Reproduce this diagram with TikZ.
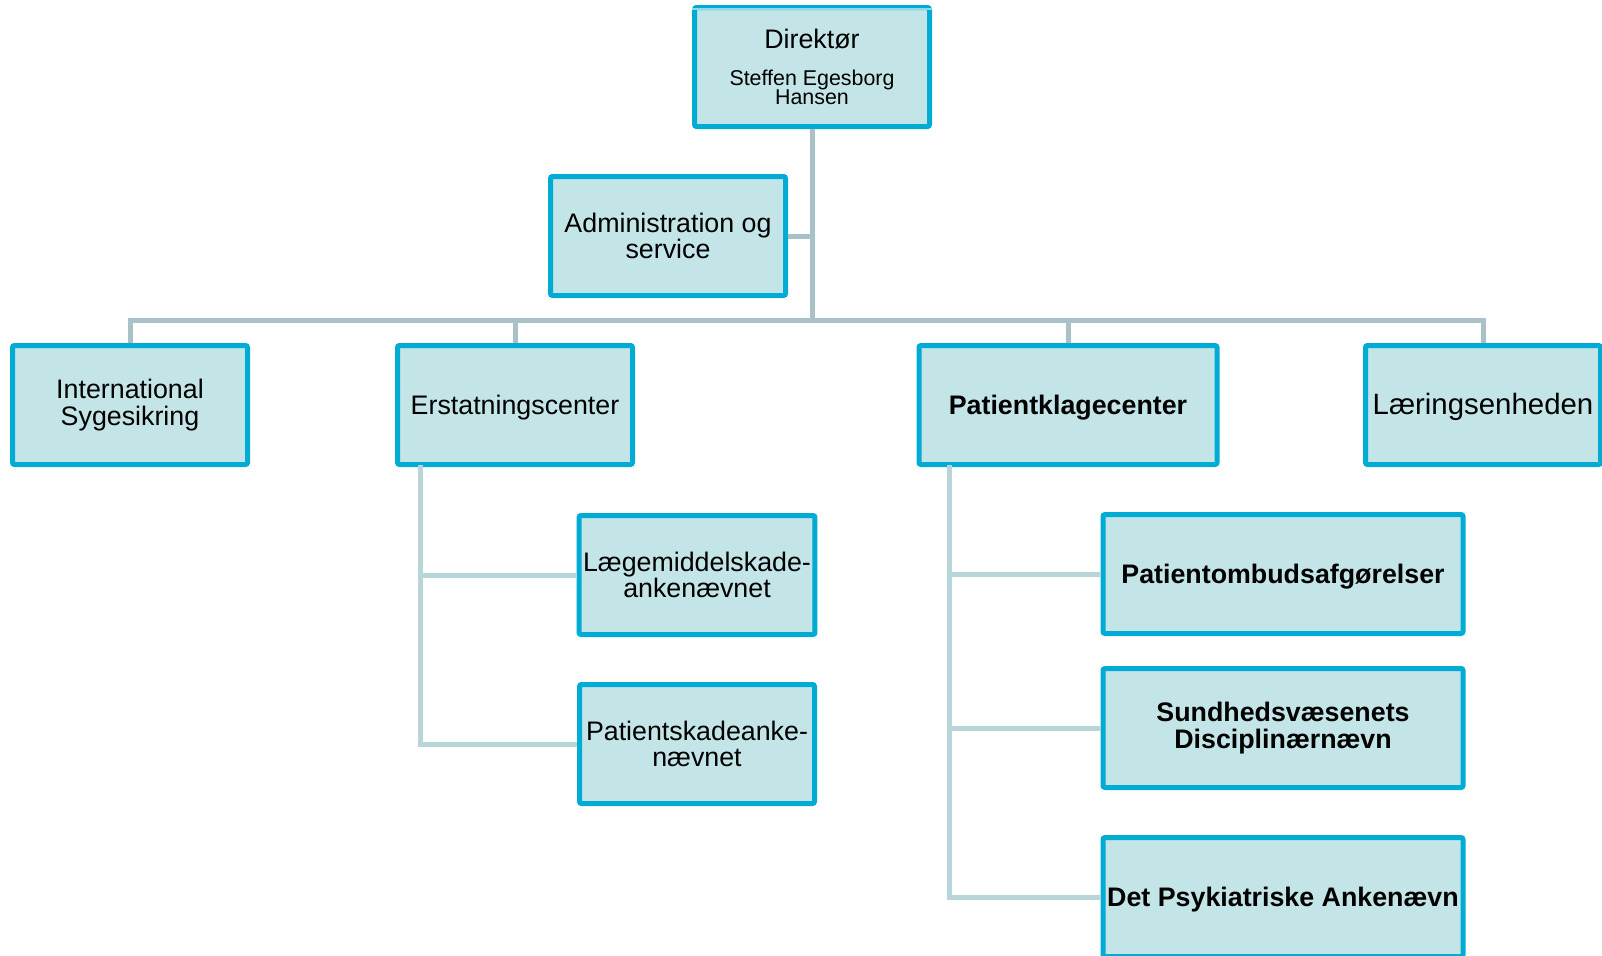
\documentclass[tikz,border=0pt]{standalone}
\usepackage{fontspec}
\setmainfont{Liberation Sans}
\definecolor{boxfill}{HTML}{C4E5E8}
\definecolor{boxline}{HTML}{00ABD4}
\definecolor{trunkline}{HTML}{A8C2C7}
\definecolor{branchline}{HTML}{B8D6DA}
\newcommand{\unitfont}{\fontsize{13.4}{13.3}\selectfont}
\newcommand{\bigunitfont}{\fontsize{14.7}{15}\selectfont}
\newcommand{\namefont}{\fontsize{10.7}{10.2}\selectfont}
\tikzset{
	unitbox/.style={rectangle, draw=boxline, fill=boxfill, line width=2.5pt, rounded corners=1pt,
		minimum width=117.5pt, minimum height=59.5pt, align=center, inner sep=2pt, font=\unitfont},
	oneline/.style={text height=12.6pt, text depth=2.8pt},
	widebox/.style={unitbox, minimum width=149pt, font=\unitfont\bfseries},
	subbox/.style={unitbox, minimum width=180pt, font=\unitfont\bfseries},
	trunk/.style={draw=trunkline, line width=2.5pt},
	branch/.style={draw=branchline, line width=2.5pt}
}
\begin{document}
\begin{tikzpicture}[x=0.5pt,y=0.5pt,yscale=-1,xscale=1]
		\useasboundingbox (0,0) rectangle (1602,955);
		
		%Shape: Top level
		\node [unitbox] (dir) at (812,67) {Direktør\\[5pt]\namefont Steffen Egesborg\\[-3.5pt]\namefont Hansen};
		\draw [boxline!45, line width=0.6pt] ([yshift=2pt]dir.north west) -- ([yshift=2pt]dir.north east);
		%Shape: Staff box
		\node [unitbox] (admin) at (668,236) {Administration og\\service};
		%Shape: Centres
		\node [unitbox] (intl) at (130,405) {International\\Sygesikring};
		\node [unitbox, oneline] (erst) at (515,405) {Erstatningscenter};
		\node [widebox, oneline] (pk) at (1068,405) {Patientklagecenter};
		\node [unitbox, oneline, font=\bigunitfont] (laer) at (1483,405) {Læringsenheden};
		%Shape: Under Erstatningscenter
		\node [unitbox] (laeg) at (697,575) {Lægemiddelskade-\\ankenævnet};
		\node [unitbox] (psk) at (697,744) {Patientskadeanke-\\nævnet};
		%Shape: Under Patientklagecenter
		\node [subbox, oneline] (pomb) at (1283,574) {Patientombudsafgørelser};
		\node [subbox] (sund) at (1283,728) {Sundhedsvæsenets\\Disciplinærnævn};
		\node [subbox, oneline] (psyk) at (1283,897) {Det Psykiatriske Ankenævn};
		
		%Straight Lines: trunk and bus
		\coordinate (hub) at (812,320);
		\draw [trunk] (dir.south) -- (hub);
		\draw [trunk] (admin.east) -- (admin.east -| hub);
		\draw [trunk] (intl.north) |- (hub);
		\draw [trunk] (erst.north) |- (hub);
		\draw [trunk] (pk.north) |- (hub);
		\draw [trunk] (laer.north) |- (hub);
		
		%Straight Lines: side branches
		\coordinate (eTop) at (420,465);
		\draw [branch] (eTop) |- (laeg.west);
		\draw [branch] (eTop) |- (psk.west);
		\coordinate (pTop) at (949,465);
		\draw [branch] (pTop) |- (pomb.west);
		\draw [branch] (pTop) |- (sund.west);
		\draw [branch] (pTop) |- (psyk.west);
		
		\end{tikzpicture}
\end{document}
